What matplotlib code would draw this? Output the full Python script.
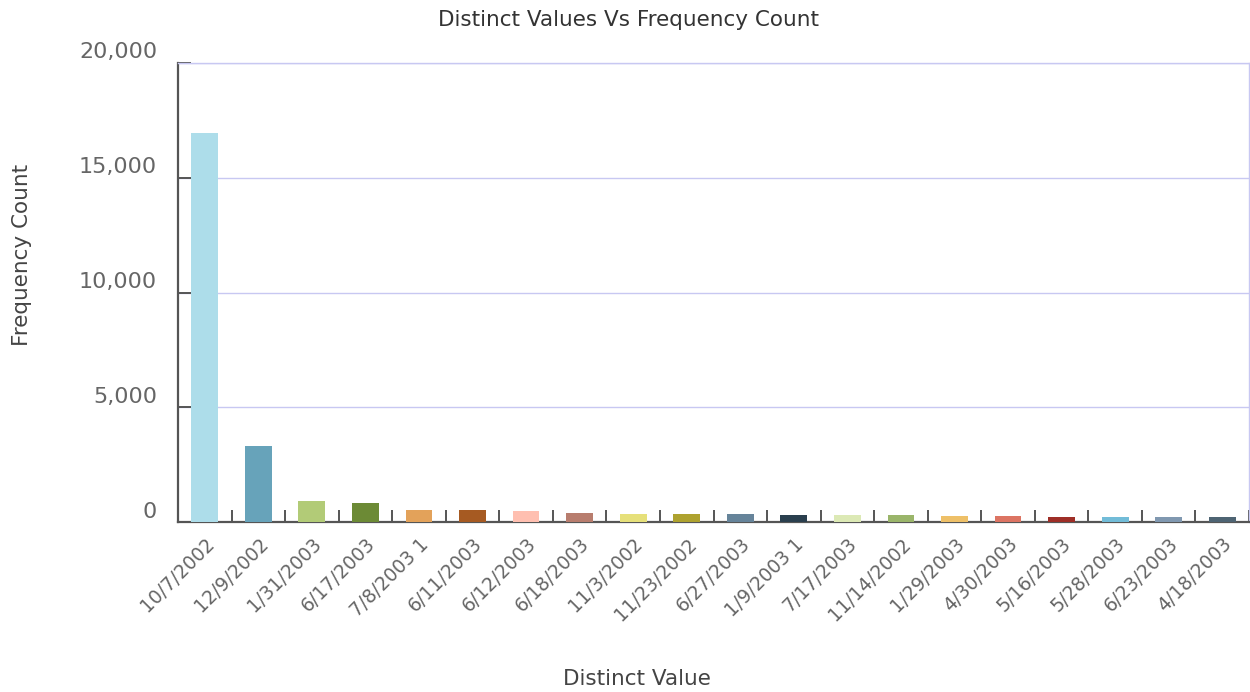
import matplotlib
matplotlib.use("Agg")
import matplotlib.pyplot as plt
from matplotlib.ticker import FuncFormatter, FixedLocator
from matplotlib.transforms import ScaledTranslation

# データ
categories = ["10/7/2002", "12/9/2002", "1/31/2003", "6/17/2003", "7/8/2003 1",
              "6/11/2003", "6/12/2003", "6/18/2003", "11/3/2002", "11/23/2002",
              "6/27/2003", "1/9/2003 1", "7/17/2003", "11/14/2002", "1/29/2003",
              "4/30/2003", "5/16/2003", "5/28/2003", "6/23/2003", "4/18/2003"]
counts = [16950, 3290, 930, 830, 540, 540, 495, 375, 370, 365,
          355, 305, 295, 290, 260, 255, 220, 215, 205, 200]
bar_colors = ["#ADDDEA", "#67A3BA", "#B2CB77", "#6C8A35", "#E3A25A",
              "#A65A22", "#FFBFB0", "#B87D6E", "#E6E07A", "#AEA22F",
              "#66849A", "#2A3F4E", "#DCE9B5", "#9AB56A", "#EEC068",
              "#DC7463", "#9E2E27", "#72BCD8", "#8098B0", "#4E6473"]
y_ticks = [0, 5000, 10000, 15000, 20000]

plt.rcParams['font.family'] = ['DejaVu Sans']

fig = plt.figure(figsize=(12.5, 6.92), dpi=100)
ax = fig.add_axes([178 / 1250, 1 - 522 / 692, 1071 / 1250, 459 / 692])

x = list(range(len(categories)))
ax.bar(x, counts, width=0.5, color=bar_colors, zorder=3)

ax.set_xlim(-0.5, len(categories) - 0.5)
ax.set_ylim(0, 20000)

grid_col = "#C8C8F2"
ax.yaxis.set_major_locator(FixedLocator(y_ticks))
ax.yaxis.set_major_formatter(FuncFormatter(lambda v, p: f"{int(v):,}"))
ax.grid(axis="y", color=grid_col, linewidth=1, zorder=0)

for s in ["top", "right"]:
    ax.spines[s].set_color(grid_col)
    ax.spines[s].set_linewidth(1)
for s in ["left", "bottom"]:
    ax.spines[s].set_color("#555555")
    ax.spines[s].set_linewidth(1.6)

# x目盛はカテゴリの境界に
ax.xaxis.set_major_locator(FixedLocator([i + 0.5 for i in x]))
ax.xaxis.set_major_formatter(FuncFormatter(lambda v, p: ""))
ax.xaxis.set_minor_locator(FixedLocator(x))
ax.xaxis.set_minor_formatter(FuncFormatter(lambda v, p: categories[int(round(v))]))
ax.tick_params(axis="x", which="major", direction="in", length=8.5, width=1.4,
               color="#555555")
ax.tick_params(axis="x", which="minor", length=0, pad=9, labelsize=13.5,
               labelcolor="#666666")
for lbl in ax.get_xticklabels(minor=True):
    lbl.set_rotation(45)
    lbl.set_ha("right")
    lbl.set_va("top")
    lbl.set_rotation_mode("anchor")

ax.tick_params(axis="y", direction="in", length=9, width=1.4, color="#555555",
               pad=15, labelsize=16, labelcolor="#666666")
offset = ScaledTranslation(0, 9 / 72, fig.dpi_scale_trans)
for lbl in ax.get_yticklabels():
    lbl.set_transform(lbl.get_transform() + offset)

fig.text(628 / 1250, 1 - 20 / 692, "Distinct Values Vs Frequency Count",
         ha="center", va="center", fontsize=15.5, color="#333333")
fig.text(22 / 1250, 1 - 255 / 692, "Frequency Count", rotation=90,
         ha="center", va="center", fontsize=15.5, color="#444444")
fig.text(637 / 1250, 1 - 679 / 692, "Distinct Value",
         ha="center", va="center", fontsize=15.5, color="#444444")

fig.savefig("out.png", dpi=100)
